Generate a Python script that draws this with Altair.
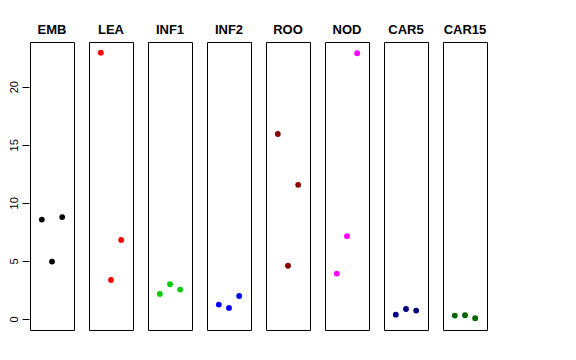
import altair as alt
import pandas as pd

tissues = ["EMB", "LEA", "INF1", "INF2", "ROO", "NOD", "CAR5", "CAR15"]
colors = ["#000000", "#FF0000", "#00CD00", "#0000FF", "#8B0000", "#FF00FF", "#000080", "#006400"]
positions = [1, 2, 3]
values = {
    "EMB": [8.56, 4.94, 8.77],
    "LEA": [22.93, 3.36, 6.81],
    "INF1": [2.16, 2.99, 2.53],
    "INF2": [1.24, 0.95, 1.98],
    "ROO": [15.93, 4.58, 11.55],
    "NOD": [3.91, 7.13, 22.88],
    "CAR5": [0.37, 0.86, 0.72],
    "CAR15": [0.29, 0.32, 0.06],
}

rows = []
for t in tissues:
    for p, v in zip(positions, values[t]):
        rows.append({"tissue": t, "pos": p, "val": v})
df = pd.DataFrame(rows)

base = alt.Chart(df).mark_circle(size=34, opacity=1).encode(
    x=alt.X("pos:Q", scale=alt.Scale(domain=[-0.16, 4.16], nice=False, zero=False), axis=None),
    y=alt.Y("val:Q", scale=alt.Scale(domain=[-0.95, 23.85], nice=False, zero=False),
            axis=alt.Axis(title=None, values=[0, 5, 10, 15, 20], domain=False, grid=False,
                          tickSize=7, tickColor="#000", labelAngle=270, labelFontSize=11,
                          labelColor="#000", labelFont="Liberation Sans", labelPadding=3)),
    color=alt.Color("tissue:N", scale=alt.Scale(domain=tissues, range=colors), legend=None),
).properties(width=44, height=288)

chart = base.facet(
    column=alt.Column("tissue:N", sort=tissues,
                      header=alt.Header(title=None, labelFontWeight="bold", labelFontSize=13,
                                        labelFont="Liberation Sans", labelColor="#000",
                                        labelOrient="top", labelPadding=4))
).properties(
    padding={"left": 0, "top": 16, "right": 5, "bottom": 5}
).configure_facet(spacing=13).configure_view(stroke="#000", strokeWidth=1)

chart.save("out.html", embed_options={"renderer": "svg", "actions": False})
